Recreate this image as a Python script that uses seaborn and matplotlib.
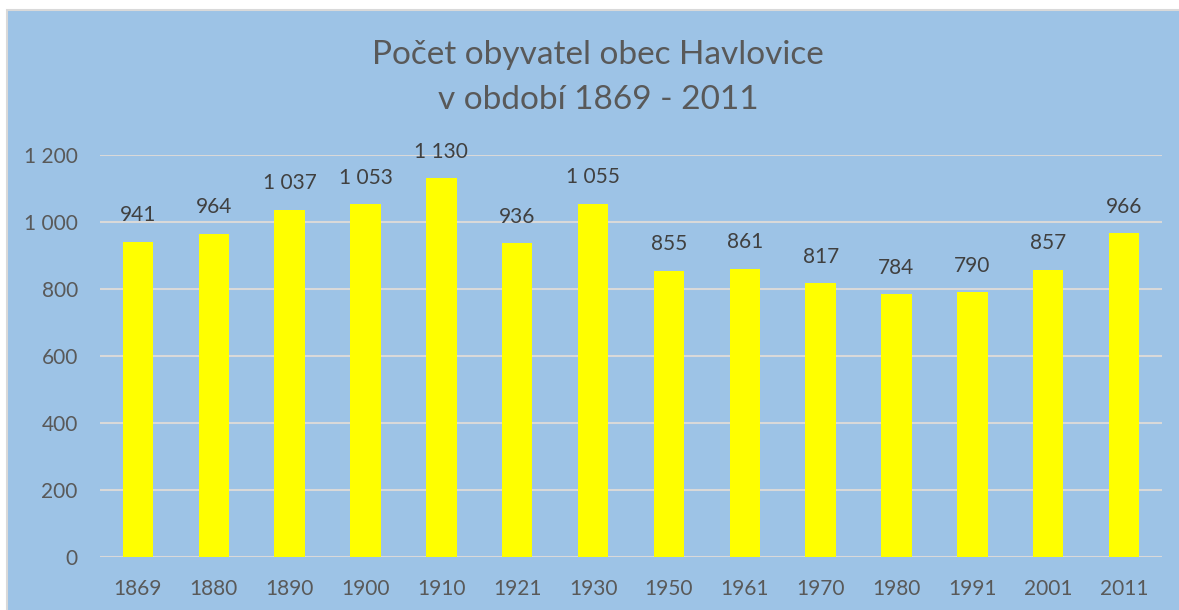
import matplotlib
matplotlib.use("Agg")
import matplotlib.pyplot as plt
import matplotlib.ticker as mticker
from matplotlib.patches import Rectangle
import seaborn as sns
import pandas as pd

years = ["1869", "1880", "1890", "1900", "1910", "1921", "1930",
         "1950", "1961", "1970", "1980", "1991", "2001", "2011"]
population = [941, 964, 1037, 1053, 1130, 936, 1055,
              855, 861, 817, 784, 790, 857, 966]
title_lines = ["Počet obyvatel obec Havlovice", "v období 1869 - 2011"]

BLUE = "#9DC3E6"
GRID = "#D9D9D9"
TXT = "#595959"
LBL = "#404040"

sns.set_theme(style="white")
plt.rcParams["font.family"] = ["Lato", "DejaVu Sans"]

def fmt(v):
    return f"{int(v):,}".replace(",", " ")

df = pd.DataFrame({"year": years, "pop": population})

fig = plt.figure(figsize=(11.79, 6.10), dpi=100, facecolor="white")
bg = Rectangle((7 / 1179, -0.05), 1.1, 1.05 - 10 / 610,
               transform=fig.transFigure, facecolor=BLUE,
               edgecolor=GRID, linewidth=1.5, zorder=-10)
fig.patches.append(bg)
ax = fig.add_axes([100 / 1179, 53 / 610, 1062 / 1179, 402 / 610])
ax.set_zorder(1)
ax.set_facecolor("none")

sns.barplot(data=df, x="year", y="pop", color="#FFFF00", width=0.4,
            saturation=1, linewidth=0, edgecolor="none", ax=ax, zorder=3)

ax.set_ylim(0, 1200)
ax.set_xlim(-0.5, len(years) - 0.5)
ax.yaxis.set_major_locator(mticker.MultipleLocator(200))
ax.yaxis.set_major_formatter(mticker.FuncFormatter(lambda v, p: fmt(v)))
ax.grid(axis="y", color=GRID, linewidth=1.5, zorder=0)
ax.set_axisbelow(True)
for s in ax.spines.values():
    s.set_visible(False)
ax.tick_params(axis="both", length=0, labelsize=15, labelcolor=TXT)
ax.tick_params(axis="y", pad=16)
ax.tick_params(axis="x", pad=16)
ax.set_xlabel("")
ax.set_ylabel("")

for i, v in enumerate(population):
    ax.annotate(fmt(v), (i, v), xytext=(0, 12), textcoords="offset points",
                ha="center", va="bottom", fontsize=15, color=LBL)

fig.text(598 / 1179, 1 - 55 / 610, title_lines[0], ha="center", va="center",
         fontsize=24, color=TXT)
fig.text(598 / 1179, 1 - 100 / 610, title_lines[1], ha="center", va="center",
         fontsize=24, color=TXT)

fig.savefig("out.png", dpi=100, facecolor="white")
